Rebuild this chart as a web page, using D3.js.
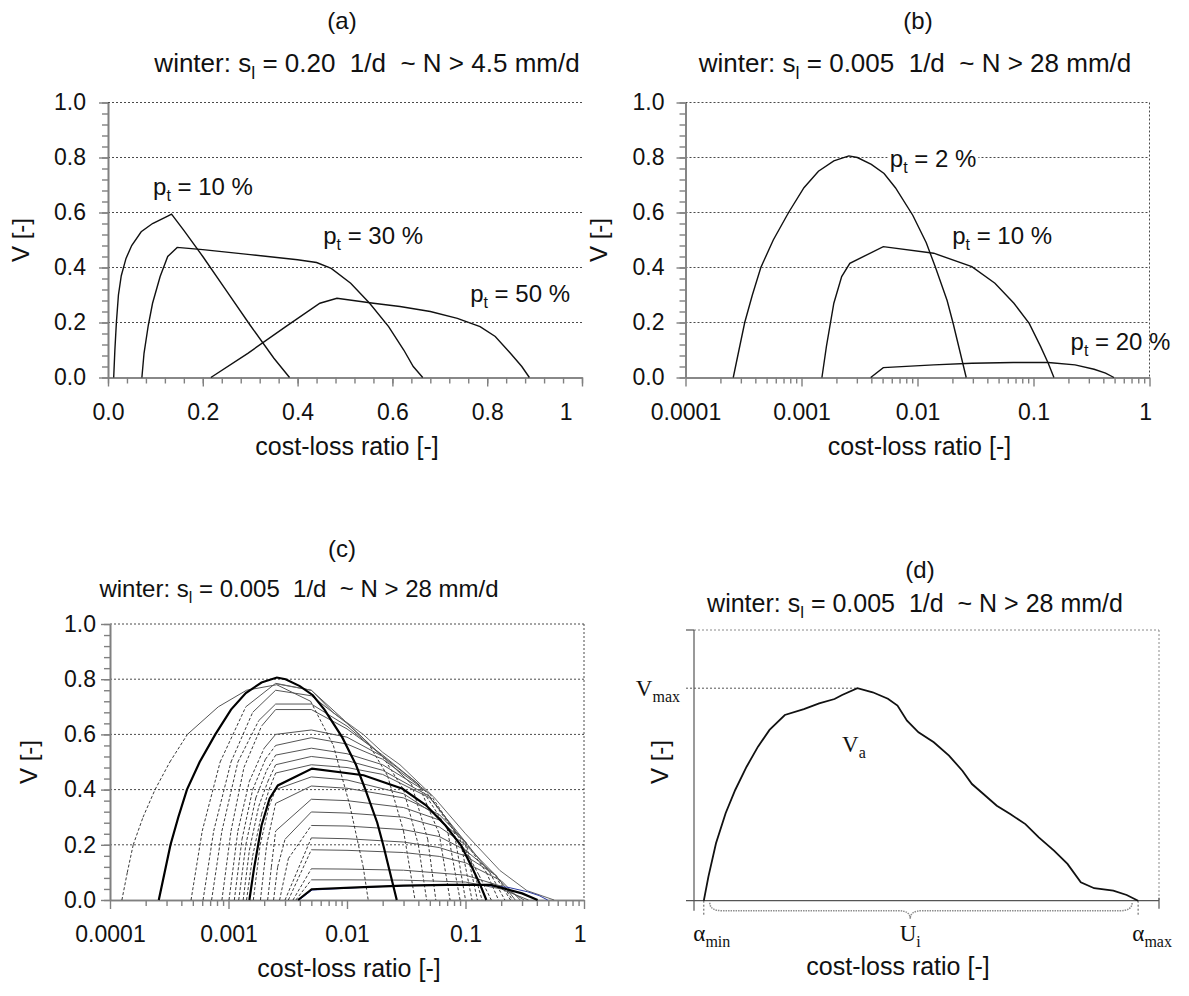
<!DOCTYPE html>
<html>
<head>
<meta charset="utf-8">
<title>Cost-loss value curves</title>
<script src="https://cdn.jsdelivr.net/npm/d3@7"></script>
<style>
  body { margin: 0; background: #fff; }
  svg { display: block; }
  text { font-family: "Liberation Sans", Arial, Helvetica, sans-serif; fill: #111; white-space: pre; }
  .serif { font-family: "Liberation Serif", "Times New Roman", serif; }
</style>
</head>
<body>
<svg id="chart" width="1189" height="996"></svg>
<script>
// ---- values ----
const vTicks = [0, 0.2, 0.4, 0.6, 0.8, 1.0];
const linTicks = [0, 0.2, 0.4, 0.6, 0.8, 1];
const linLabels = ["0.0", "0.2", "0.4", "0.6", "0.8", "1"];
const logTicks = [0.0001, 0.001, 0.01, 0.1, 1];
const logLabels = ["0.0001", "0.001", "0.01", "0.1", "1"];

// (a) s_l = 0.20 1/d  [cost-loss ratio, V]
const aPt10 = [[0.012,0],[0.0145,0.1],[0.0177,0.2],[0.022,0.3],[0.028,0.37],[0.038,0.433],[0.05,0.48],[0.07,0.53],[0.094,0.56],[0.126,0.587],[0.134,0.594],[0.16,0.535],[0.2,0.44],[0.25,0.315],[0.3,0.19],[0.35,0.07],[0.383,0]];
const aPt30 = [[0.0715,0],[0.076,0.088],[0.085,0.19],[0.094,0.27],[0.11,0.367],[0.126,0.44],[0.146,0.473],[0.2,0.465],[0.3,0.447],[0.4,0.428],[0.44,0.418],[0.471,0.397],[0.512,0.343],[0.552,0.27],[0.592,0.185],[0.624,0.1],[0.644,0.04],[0.664,0]];
const aPt50 = [[0.217,0],[0.295,0.088],[0.375,0.185],[0.447,0.27],[0.483,0.288],[0.56,0.27],[0.616,0.258],[0.68,0.24],[0.737,0.215],[0.785,0.185],[0.817,0.149],[0.849,0.088],[0.873,0.04],[0.889,0]];
const aLabels = [{ pt: "10", x: 0.095, v: 0.663 }, { pt: "30", x: 0.454, v: 0.485 }, { pt: "50", x: 0.764, v: 0.275 }];

// (b) s_l = 0.005 1/d (also the bold curves of (c))
const bPt2 = [[2.58e-4,0],[2.89e-4,0.1],[3.24e-4,0.2],[3.77e-4,0.3],[4.46e-4,0.4],[5.71e-4,0.5],[7.74e-4,0.6],[1.05e-3,0.69],[1.4e-3,0.75],[1.9e-3,0.788],[2.56e-3,0.806],[3.03e-3,0.8],[4e-3,0.775],[5.15e-3,0.742],[6.45e-3,0.69],[9.1e-3,0.59],[0.0119,0.49],[0.0143,0.4],[0.018,0.28],[0.0202,0.2],[0.0263,0]];
const bPt10 = [[1.5e-3,0],[1.64e-3,0.113],[1.9e-3,0.27],[2.22e-3,0.367],[2.61e-3,0.415],[5.07e-3,0.476],[0.0138,0.452],[0.0294,0.403],[0.0465,0.343],[0.0678,0.27],[0.0918,0.197],[0.115,0.113],[0.134,0.052],[0.15,0]];
const bPt20 = [[3.95e-3,0],[5.07e-3,0.036],[0.0138,0.046],[0.0294,0.052],[0.067,0.0545],[0.134,0.0545],[0.228,0.046],[0.333,0.03],[0.418,0.016],[0.494,0]];
const bLabels = [{ pt: "2", x: 5.77e-3, v: 0.764 }, { pt: "10", x: 0.0199, v: 0.485 }, { pt: "20", x: 0.2085, v: 0.10 }];

// (c) whole family of thresholds
const cPt1 = [[1.26e-4,0],[1.4e-4,0.1],[1.57e-4,0.2],[1.9e-4,0.3],[2.4e-4,0.4],[3.2e-4,0.5],[4.5e-4,0.6],[8.2e-4,0.7],[1.42e-3,0.76],[2.55e-3,0.78],[4.93e-3,0.72],[7.67e-3,0.56],[0.0106,0.34],[0.0137,0.12],[0.0151,0]];
const cEnvelope = [[2.55e-3,0.783],[5e-3,0.76],[7.6e-3,0.68],[0.0137,0.6],[0.02,0.535],[0.028,0.49],[0.054,0.373],[0.1,0.24],[0.195,0.107],[0.33,0.034],[0.56,0]];
const cPt20 = [[3.86e-3,0],[5.03e-3,0.039],[0.0138,0.047],[0.03,0.052],[0.07,0.0545],[0.164,0.0545],[0.3,0.024],[0.406,0]];
const cFamily = [
  [[4.83e-4,0],[6.0e-4,0.25],[8.5e-4,0.5],[1.4e-3,0.7],[2.5e-3,0.785],[5e-3,0.76],[9e-3,0.66],[0.015,0.57],[0.022,0.45],[0.03,0.25],[0.0375,0]],
  [[6.1e-4,0],[7.5e-4,0.25],[1.05e-3,0.5],[1.6e-3,0.68],[2.5e-3,0.76],[5e-3,0.74],[0.01,0.64],[0.02,0.52],[0.03,0.4],[0.04,0.2],[0.047,0]],
  [[7.2e-4,0],[8.8e-4,0.25],[1.2e-3,0.5],[1.8e-3,0.65],[2.5e-3,0.71],[5e-3,0.71],[0.01,0.63],[0.02,0.52],[0.035,0.42],[0.048,0.22],[0.0562,0]],
  [[8.8e-4,0],[1.05e-3,0.25],[1.35e-3,0.48],[1.9e-3,0.63],[2.5e-3,0.69],[5e-3,0.69],[0.01,0.62],[0.02,0.525],[0.04,0.42],[0.06,0.24],[0.0741,0]],
  [[1.01e-3,0],[1.2e-3,0.25],[1.5e-3,0.43],[2e-3,0.55],[2.5e-3,0.6],[5e-3,0.616],[0.01,0.59],[0.02,0.52],[0.04,0.42],[0.07,0.26],[0.09,0]],
  [[1.12e-3,0],[1.3e-3,0.22],[1.6e-3,0.4],[2.05e-3,0.51],[2.5e-3,0.56],[5e-3,0.588],[0.01,0.565],[0.02,0.51],[0.045,0.4],[0.08,0.25],[0.1,0]],
  [[1.22e-3,0],[1.4e-3,0.2],[1.7e-3,0.37],[2.1e-3,0.47],[2.5e-3,0.525],[5e-3,0.55],[0.01,0.53],[0.02,0.49],[0.05,0.385],[0.09,0.22],[0.1135,0]],
  [[1.33e-3,0],[1.5e-3,0.18],[1.8e-3,0.34],[2.15e-3,0.43],[2.5e-3,0.49],[5e-3,0.52],[0.01,0.505],[0.02,0.47],[0.05,0.375],[0.1,0.2],[0.126,0]],
  [[1.42e-3,0],[1.6e-3,0.16],[1.9e-3,0.31],[2.2e-3,0.4],[2.5e-3,0.46],[5e-3,0.49],[0.01,0.48],[0.02,0.455],[0.05,0.37],[0.1,0.21],[0.138,0]],
  [[1.62e-3,0],[1.85e-3,0.2],[2.2e-3,0.34],[2.5e-3,0.4],[5e-3,0.446],[0.01,0.435],[0.03,0.385],[0.06,0.3],[0.1,0.18],[0.13,0.09],[0.165,0]],
  [[1.86e-3,0],[2.1e-3,0.2],[2.5e-3,0.35],[5e-3,0.413],[0.01,0.405],[0.03,0.37],[0.06,0.31],[0.1,0.21],[0.15,0.1],[0.19,0]],
  [[2.14e-3,0],[2.3e-3,0.12],[2.5e-3,0.25],[5e-3,0.365],[0.01,0.36],[0.03,0.335],[0.06,0.29],[0.1,0.21],[0.16,0.1],[0.215,0]],
  [[2.4e-3,0],[2.6e-3,0.12],[3e-3,0.22],[5e-3,0.319],[0.01,0.315],[0.03,0.3],[0.06,0.265],[0.1,0.2],[0.17,0.1],[0.24,0]],
  [[2.7e-3,0],[3.2e-3,0.15],[5e-3,0.27],[0.01,0.268],[0.03,0.255],[0.06,0.23],[0.1,0.18],[0.18,0.09],[0.25,0]],
  [[3.0e-3,0],[5e-3,0.225],[0.01,0.222],[0.03,0.21],[0.06,0.19],[0.1,0.16],[0.18,0.09],[0.263,0]],
  [[3.2e-3,0],[5e-3,0.182],[0.01,0.18],[0.03,0.172],[0.06,0.158],[0.1,0.135],[0.2,0.07],[0.29,0]],
  [[3.5e-3,0],[5e-3,0.113],[0.01,0.112],[0.03,0.108],[0.1,0.09],[0.2,0.05],[0.312,0]],
  [[3.7e-3,0],[5e-3,0.073],[0.01,0.073],[0.03,0.072],[0.1,0.065],[0.2,0.04],[0.34,0]]
];

// (d) schematic curve, x in % of the shown range
const dCurve = [[2.11,0],[3.1,0.089],[4.73,0.212],[6.8,0.323],[8.86,0.409],[11.31,0.495],[13.76,0.569],[16.24,0.631],[19.53,0.686],[23.63,0.708],[26.92,0.729],[30.22,0.745],[31.85,0.76],[35.14,0.785],[38.43,0.77],[41.7,0.746],[43.76,0.721],[45.81,0.665],[48.28,0.622],[51.57,0.585],[54.84,0.536],[57.72,0.48],[59.78,0.431],[62.24,0.394],[65.12,0.351],[68.0,0.32],[71.27,0.283],[74.15,0.234],[77.42,0.185],[80.32,0.136],[83.18,0.068],[86.06,0.046],[90.17,0.037],[93.05,0.021],[95.51,0]];
const dAlphaMin = 2.11, dAlphaMax = 95.51, dVmax = 0.785, dVmaxAt = 35.14, dBraceAt = 46.5;

// ---- drawing ----
const svg = d3.select("#chart");
const axisGrey = "#808080";
const gridGrey = "#4a4a4a";

function subText(parent, x, y, size, parts, anchor) {
  // parts: [text, isSub] pairs
  const t = parent.append("text").attr("x", x).attr("y", y)
    .attr("text-anchor", anchor || "start").style("font-size", size + "px");
  let shift = 0;
  parts.forEach(([s, sub]) => {
    const want = sub ? Math.round(size * 0.25) : 0;
    const ts = t.append("tspan").text(s).attr("dy", want - shift);
    if (sub) ts.style("font-size", Math.round(size * 0.68) + "px");
    shift = want;
  });
  return t;
}

function panel(o) {
  const x = (o.log ? d3.scaleLog().domain([1e-4, 1]) : d3.scaleLinear().domain([0, 1]))
    .range([o.left, o.right]);
  const y = d3.scaleLinear().domain([0, 1]).range([o.bottom, o.top]);
  const g = svg.append("g");

  g.selectAll("line.grid")
    .data(vTicks.filter(v => v > 0))
    .join("line")
    .attr("class", "grid")
    .attr("x1", o.left).attr("x2", o.right)
    .attr("y1", d => y(d)).attr("y2", d => y(d))
    .attr("stroke", gridGrey).attr("stroke-dasharray", "2,2");

  let border = null;
  if (o.border) {
    border = g.append("line")
      .attr("x1", o.right).attr("x2", o.right)
      .attr("y1", o.top).attr("y2", o.bottom)
      .attr("stroke", gridGrey).attr("stroke-dasharray", "2,2");
  }

  // V axis
  const vMinor = d3.range(0, 1.0001, 0.04);
  g.append("g").attr("transform", `translate(${o.left},0)`)
    .call(d3.axisLeft(y).tickValues(vMinor).tickSize(6).tickSizeOuter(0).tickFormat(""));
  g.append("g").attr("transform", `translate(${o.left},0)`)
    .call(d3.axisLeft(y).tickValues(vTicks).tickSize(9).tickSizeOuter(0)
      .tickPadding(o.yPad).tickFormat(d3.format(".1f")));

  // cost-loss axis
  let xMinor;
  if (o.log) {
    xMinor = [];
    logTicks.slice(0, -1).forEach(d => { for (let k = 2; k < 10; k++) xMinor.push(d * k); });
  } else {
    xMinor = d3.range(0, 1.0001, 0.04);
  }
  const ticks = o.log ? logTicks : linTicks;
  const labels = o.log ? logLabels : linLabels;
  g.append("g").attr("transform", `translate(0,${o.bottom})`)
    .call(d3.axisBottom(x).tickValues(xMinor).tickSize(6).tickSizeOuter(0).tickFormat(""));
  const xa = g.append("g").attr("transform", `translate(0,${o.bottom})`)
    .call(d3.axisBottom(x).tickValues(ticks).tickSize(9).tickSizeOuter(0)
      .tickPadding(17).tickFormat((d, i) => labels[i]));
  xa.selectAll(".tick:last-of-type text").attr("text-anchor", "end").attr("x", o.lastDx);

  g.selectAll(".domain").attr("stroke", axisGrey).attr("stroke-width", 1.6);
  g.selectAll(".tick line").attr("stroke", axisGrey).attr("stroke-width", 1.4);
  g.selectAll(".tick text").style("font-size", "23px");

  // titles
  g.append("text").attr("x", o.titleX).attr("y", o.titleY).attr("text-anchor", "middle")
    .style("font-size", "24px").text(o.tag);
  subText(g, o.subX, o.subY, o.subSize, [["winter: s"], ["l", true],
    [` = ${o.sl}  1/d  ~ N > ${o.n} mm/d`]], "middle");
  g.append("text")
    .attr("transform", `translate(${o.vx},${(o.top + o.bottom) / 2}) rotate(-90)`)
    .attr("text-anchor", "middle").style("font-size", "24px").text("V [-]");
  g.append("text").attr("x", (o.left + o.right) / 2 + 2).attr("y", o.bottom + 77)
    .attr("text-anchor", "middle").style("font-size", "25px").text("cost-loss ratio [-]");

  return { g, x, y, border };
}

const line = (x, y) => d3.line().x(d => x(d[0])).y(d => y(d[1]));

function ptLabel(p, lab, boxed) {
  const t = subText(p.g, p.x(lab.x), p.y(lab.v), 24, [["p"], ["t", true], [` = ${lab.pt} %`]]);
  if (boxed) {
    const b = t.node().getBBox();
    p.g.insert("rect", () => t.node())
      .attr("x", b.x - 2).attr("y", b.y + 2).attr("width", b.width + 4).attr("height", b.height - 4)
      .attr("fill", "#fff");
  }
}

// (a)
const pa = panel({ left: 108, right: 582, top: 102.5, bottom: 377.5, log: false, border: false,
  yPad: 13, lastDx: -10, tag: "(a)", titleX: 342, titleY: 29, subX: 367, subY: 72, subSize: 26,
  sl: "0.20", n: "4.5", vx: 29 });
[aPt10, aPt30, aPt50].forEach(c => {
  pa.g.append("path").datum(c).attr("d", line(pa.x, pa.y))
    .attr("fill", "none").attr("stroke", "#111").attr("stroke-width", 1.4);
});
aLabels.forEach(l => ptLabel(pa, l, false));

// (b)
const pb = panel({ left: 685.5, right: 1149.5, top: 102.5, bottom: 377.5, log: true, border: true,
  yPad: 12, lastDx: 2, tag: "(b)", titleX: 918, titleY: 29, subX: 915, subY: 72, subSize: 26,
  sl: "0.005", n: "28", vx: 607 });
[bPt2, bPt10, bPt20].forEach(c => {
  pb.g.append("path").datum(c).attr("d", line(pb.x, pb.y))
    .attr("fill", "none").attr("stroke", "#111").attr("stroke-width", 1.4);
});
bLabels.forEach(l => ptLabel(pb, l, true));
pb.border.raise();

// (c)
const pc = panel({ left: 110, right: 584, top: 624, bottom: 900, log: true, border: true,
  yPad: 5, lastDx: 2, tag: "(c)", titleX: 342, titleY: 557, subX: 299, subY: 597, subSize: 24,
  sl: "0.005", n: "28", vx: 37 });

function familyCurve(p, pts) {
  // steep flanks dashed, flat parts thin solid
  const segs = d3.pairs(pts).map(([a, b]) => {
    const dx = Math.abs(p.x(b[0]) - p.x(a[0]));
    const dy = Math.abs(p.y(b[1]) - p.y(a[1]));
    return { a, b, steep: dy > 1.3 * dx };
  });
  p.g.append("g").selectAll("line").data(segs).join("line")
    .attr("x1", s => p.x(s.a[0])).attr("y1", s => p.y(s.a[1]))
    .attr("x2", s => p.x(s.b[0])).attr("y2", s => p.y(s.b[1]))
    .attr("stroke", s => s.steep ? "#222" : "#555")
    .attr("stroke-width", s => s.steep ? 0.9 : 1)
    .attr("stroke-dasharray", s => s.steep ? "3,2" : null);
}
cFamily.forEach(c => familyCurve(pc, c));
familyCurve(pc, cPt1);
pc.g.append("path").datum(cEnvelope).attr("d", line(pc.x, pc.y))
  .attr("fill", "none").attr("stroke", "#666").attr("stroke-width", 1);
pc.g.append("path").datum(bPt20).attr("d", line(pc.x, pc.y))
  .attr("fill", "none").attr("stroke", "#2b3aa0").attr("stroke-width", 1);
[bPt2, bPt10, cPt20].forEach(c => {
  pc.g.append("path").datum(c).attr("d", line(pc.x, pc.y))
    .attr("fill", "none").attr("stroke", "#000").attr("stroke-width", 2.2);
});

// (d)
const xd = d3.scaleLinear().domain([0, 100]).range([694, 1159]);
const yd = d3.scaleLinear().domain([0, 1]).range([900.7, 630]);
const gd = svg.append("g");
const dot = { stroke: "#8a8a8a", dash: "2,2" };

gd.append("line").attr("x1", xd(0)).attr("x2", xd(100)).attr("y1", yd(1)).attr("y2", yd(1))
  .attr("stroke", dot.stroke).attr("stroke-dasharray", dot.dash);
gd.append("line").attr("x1", xd(100)).attr("x2", xd(100)).attr("y1", yd(1)).attr("y2", yd(0))
  .attr("stroke", dot.stroke).attr("stroke-dasharray", dot.dash);
gd.append("line").attr("x1", xd(0) - 8).attr("x2", xd(dVmaxAt)).attr("y1", yd(dVmax)).attr("y2", yd(dVmax))
  .attr("stroke", "#555").attr("stroke-dasharray", "2,2");
[dAlphaMin, dAlphaMax].forEach(a => {
  gd.append("line").attr("x1", xd(a)).attr("x2", xd(a)).attr("y1", yd(0)).attr("y2", yd(0) + 15)
    .attr("stroke", "#555").attr("stroke-dasharray", "2,2");
});
// axes
gd.append("line").attr("x1", xd(0)).attr("x2", xd(0)).attr("y1", yd(1)).attr("y2", yd(0) + 10)
  .attr("stroke", "#555").attr("stroke-width", 1.2);
gd.append("line").attr("x1", xd(0) - 8).attr("x2", xd(0)).attr("y1", yd(1)).attr("y2", yd(1))
  .attr("stroke", "#555").attr("stroke-width", 1.2);
gd.append("line").attr("x1", xd(0) - 8).attr("x2", xd(100)).attr("y1", yd(0)).attr("y2", yd(0))
  .attr("stroke", "#555").attr("stroke-width", 1.2);
gd.append("line").attr("x1", xd(100)).attr("x2", xd(100)).attr("y1", yd(0) - 3).attr("y2", yd(0) + 8)
  .attr("stroke", "#555").attr("stroke-width", 1.2);

gd.append("path").datum(dCurve).attr("d", line(xd, yd))
  .attr("fill", "none").attr("stroke", "#111").attr("stroke-width", 1.8);

// brace under the useful range
{
  const x0 = xd(dAlphaMin) + 6, x1 = xd(dAlphaMax) - 6, m = xd(dBraceAt);
  const y0 = yd(0) + 2, y1 = y0 + 8, y2 = y0 + 16;
  const p = d3.path();
  p.moveTo(x0, y0);
  p.quadraticCurveTo(x0, y1, x0 + 12, y1);
  p.lineTo(m - 12, y1);
  p.quadraticCurveTo(m, y1, m, y2);
  p.quadraticCurveTo(m, y1, m + 12, y1);
  p.lineTo(x1 - 12, y1);
  p.quadraticCurveTo(x1, y1, x1, y0);
  gd.append("path").attr("d", p.toString()).attr("fill", "none")
    .attr("stroke", "#8c8c8c").attr("stroke-width", 1.5).attr("stroke-dasharray", "1.5,1");
}

subText(gd, xd(0) - 14, yd(dVmax) + 8, 23, [["V"], ["max", true]], "end").attr("class", "serif");
subText(gd, 842, 752, 23, [["V"], ["a", true]]).attr("class", "serif");
subText(gd, xd(dAlphaMin) + 8, 941, 23, [["\u03b1"], ["min", true]], "middle").attr("class", "serif");
subText(gd, xd(dBraceAt), 941, 23, [["U"], ["i", true]], "middle").attr("class", "serif");
subText(gd, xd(dAlphaMax) + 14, 941, 23, [["\u03b1"], ["max", true]], "middle").attr("class", "serif");

gd.append("text").attr("transform", `translate(668,762) rotate(-90)`)
  .attr("text-anchor", "middle").style("font-size", "24px").text("V [-]");
gd.append("text").attr("x", 898).attr("y", 975).attr("text-anchor", "middle")
  .style("font-size", "25px").text("cost-loss ratio [-]");
gd.append("text").attr("x", 920).attr("y", 578).attr("text-anchor", "middle")
  .style("font-size", "24px").text("(d)");
subText(gd, 915, 612, 25, [["winter: s"], ["l", true], [" = 0.005  1/d  ~ N > 28 mm/d"]], "middle");
</script>
</body>
</html>
